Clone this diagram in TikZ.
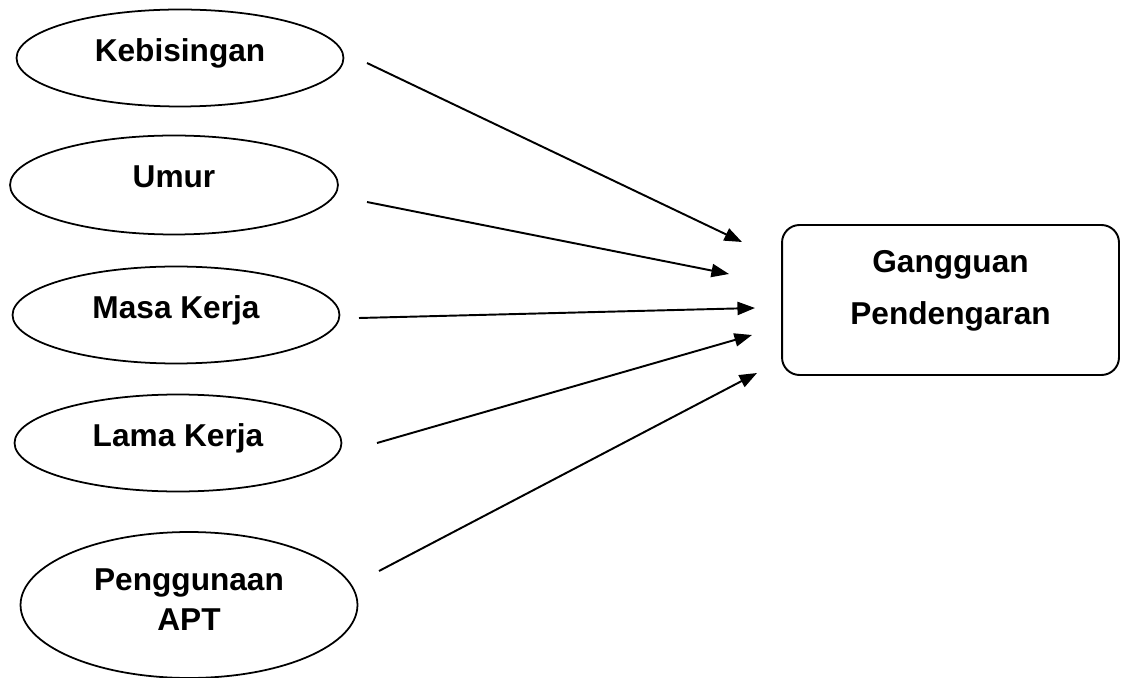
\documentclass[tikz,border=0pt]{standalone}
\usepackage{fontspec}
\setmainfont{Liberation Sans}
\usetikzlibrary{arrows.meta,shapes.geometric}
\tikzset{
	oval/.style={ellipse,draw,line width=1pt,inner sep=0pt,
		font=\bfseries\fontsize{18}{22.7}\selectfont,text depth=0.32cm},
	result/.style={draw,line width=1.1pt,rounded corners=0.35cm,align=center,
		font=\bfseries\fontsize{18}{29.5}\selectfont}
}
\begin{document}
\begin{tikzpicture}[>={Triangle[length=10pt,width=7.5pt]},x=0.02cm,y=-0.02cm,line width=1.1pt]
	\useasboundingbox (0,0) rectangle (1121,678);
	\node[oval,minimum width=6.54cm,minimum height=1.94cm] (keb) at (180,58) {Kebisingan};
	\node[oval,minimum width=6.56cm,minimum height=1.98cm] (umr) at (174,185) {Umur};
	\node[oval,minimum width=6.54cm,minimum height=1.94cm] (msk) at (176,315) {Masa Kerja};
	\node[oval,minimum width=6.54cm,minimum height=1.94cm] (lmk) at (178,443) {Lama Kerja};
	\node[oval,minimum width=6.74cm,minimum height=2.92cm,align=center,text depth=0.22cm] (apt) at (189,605) {Penggunaan\\APT};
	\node[result,minimum width=6.74cm,minimum height=3cm,text depth=0.5cm] (gp) at (950.5,300) {Gangguan\\Pendengaran};
	\coordinate (S1) at (367,63);
	\coordinate (S2) at (367,202);
	\coordinate (S3) at (359,318);
	\coordinate (S4) at (377,443);
	\coordinate (S5) at (379,571);
	\coordinate (T1) at (742,242);
	\coordinate (T2) at (729,274);
	\coordinate (T3) at (755,308);
	\coordinate (T4) at (752,335);
	\coordinate (T5) at (757,373);
	\foreach \i in {1,...,5}\draw[->] (S\i)--(T\i);
\end{tikzpicture}
\end{document}
